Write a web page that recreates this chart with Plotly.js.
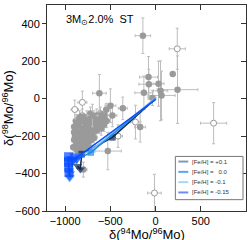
<!DOCTYPE html>
<html><head><meta charset="utf-8">
<script src="https://cdn.plot.ly/plotly-3.0.1.min.js"></script>
<style>html,body{margin:0;padding:0;background:#fff}</style>
</head><body><div id="plot" style="width:249px;height:240px"></div>
<script>
// Grain measurements: dense cluster (filled)
const clusterX = [-900,-880,-870,-860,-880,-850,-830,-820,-840,-810,-790,-780,-800,-760,-750,-770,-730,-720,-700,-690,-710,-680,-660,-650,-640,-620,-600,-610,-580,-560,-545,-570,-600,-650,-700,-740,-820,-860,-790,-760,-720,-850,-880,-830,-740,-690,-620,-540,-900,-910,-870,-840,-810,-780,-750,-720,-690,-660,-890,-860,-830,-800,-770,-740,-710,-680,-900,-870,-840,-810];
const clusterY = [-150,-170,-200,-230,-250,-260,-240,-210,-180,-160,-190,-230,-250,-210,-170,-140,-150,-190,-160,-130,-110,-100,-140,-90,-120,-100,-130,-80,-110,-90,-60,-140,-160,-170,-200,-230,-270,-280,-120,-100,-80,-140,-120,-120,-120,-180,-150,-120,-220,-260,-270,-250,-230,-210,-190,-170,-150,-120,-200,-190,-270,-280,-250,-260,-220,-210,-180,-140,-100,-90];
// Grain measurements with visible errors (filled)
const grainX  = [-140,190,-78,-74,33,-129,55,66,243,-34,-362,-621,-499,-698,-528,-170,-798,-477];
const grainY  = [336,131,115,77,80,31,42,17,48,3,-52,29,-38,-90,-280,-152,-379,-90];
const grainEX = [85,10,100,110,60,100,80,150,225,40,50,75,60,60,150,60,40,50];
const grainEY = [95,10,110,80,120,90,160,130,180,40,60,100,90,60,100,80,40,60];
// Grain measurements (open)
const openX  = [240,-809,-893,-222,-415,642,-12];
const openY  = [266,-20,-58,-125,-200,-131,-504];
const openEX = [90,50,40,60,50,145,75];
const openEY = [110,60,50,90,60,110,100];
// Models
const modelNames = ['[Fe/H] = +0.1','[Fe/H] =\u00a0\u00a0 0.0','[Fe/H] = -0.1','[Fe/H] = -0.15'];
const modelX = [
  [-862,-832,-816,-477,0],
  [-968,-945,-900,-716,0],
  [-950,-962,-860,-700,0],
  [-950,-957,-960,-962,-962,-915,-870,-830,0]
];
const modelY = [
  [-360,-378,-296,-207,0],
  [-330,-400,-330,-288,0],
  [-425,-365,-310,-272,4],
  [-418,-395,-370,-340,-310,-325,-312,-300,-6]
];
const modelColors = ['#0b2a55','#1e88e5','#86c5f7','#0a4cff'];
const legendColors = ['#7f9bb8','#5aa7ec','#a9d6f8','#6f8cf5'];
// marker style per point: [symbol, size]
const markStyle = [
  [['triangle-down',8],['triangle-down',8],['square',6.5],['square',6.5]],
  [['square',8],['triangle-down',9],['square',6.5],['square',6.5]],
  [['triangle-down',9],['square',8],['square',6.5],['square',6.5]],
  [['triangle-down',9],['square',9],['square',9],['square',9],['square',9],['triangle-down',12],['triangle-down',14],['square',0]]
];

const traces = [];
const ebx = (a)=>({type:'data',array:a,visible:true,color:'#bdbdbd',thickness:1,width:1.5});
traces.push({x:clusterX,y:clusterY,mode:'markers',type:'scatter',showlegend:false,
  error_x:ebx(clusterX.map(()=>30)),error_y:ebx(clusterY.map(()=>35)),
  marker:{color:'#9a9a9a',size:6.5}});
traces.push({x:grainX,y:grainY,mode:'markers',type:'scatter',showlegend:false,
  error_x:ebx(grainEX),error_y:ebx(grainEY),marker:{color:'#9a9a9a',size:6.5}});
traces.push({x:openX,y:openY,mode:'markers',type:'scatter',showlegend:false,
  error_x:ebx(openEX),error_y:ebx(openEY),marker:{color:'#ffffff',size:6,line:{color:'#9a9a9a',width:1}}});
[0,2,1,3].forEach(i=>{
  const ms=markStyle[i];
  traces.push({x:modelX[i],y:modelY[i],mode:'lines+markers',type:'scatter',showlegend:false,
    line:{color:modelColors[i],width:1.5},
    marker:{color:modelColors[i],line:{width:0},
      symbol:modelX[i].map((_,k)=>ms[k]?ms[k][0]:'square'),
      size:modelX[i].map((_,k)=>ms[k]?ms[k][1]:0)}});
});
traces.push({x:[null],y:[null],yaxis:'y2',showlegend:false,hoverinfo:'skip'});

const shapes=[{type:'rect',xref:'paper',yref:'paper',x0:0.645,x1:0.985,y0:0.055,y1:0.265,line:{color:'#777',width:1},fillcolor:'#fff'}];
const annotations=[{xref:'paper',yref:'paper',x:0.085,y:0.925,xanchor:'left',yanchor:'middle',showarrow:false,
  text:'3M<sub>⊙</sub>2.0%\u00a0\u00a0ST',font:{family:'Liberation Sans, Arial, sans-serif',size:11,color:'#000'}},
  {xref:'paper',yref:'paper',x:0.5,y:-0.11,xanchor:'center',yanchor:'middle',showarrow:false,
  text:'δ(<sup>94</sup>Mo/<sup>96</sup>Mo)',font:{family:'Liberation Sans, Arial, sans-serif',size:13,color:'#000'}}];
for(let i=0;i<4;i++){
  const yy=0.24-i*0.05;
  shapes.push({type:'line',xref:'paper',yref:'paper',x0:0.66,x1:0.71,y0:yy,y1:yy,line:{color:legendColors[i],width:2}});
  annotations.push({xref:'paper',yref:'paper',x:0.72,y:yy,xanchor:'left',yanchor:'middle',showarrow:false,
    text:modelNames[i],font:{family:'Liberation Sans, Arial, sans-serif',size:6,color:'#333'}});
}

const font={family:'Liberation Sans, Arial, sans-serif',size:11,color:'#000'};
const layout={width:249,height:240,margin:{l:47,r:3,t:5,b:29},paper_bgcolor:'#fff',plot_bgcolor:'#fff',
  font:font,showlegend:false,
  xaxis:{range:[-1200,1000],tickvals:[-1000,-500,0,500],ticks:'inside',ticklen:5,tickcolor:'#333',
    showline:true,linecolor:'#333',linewidth:1,mirror:'ticks',zeroline:false,showgrid:false},
  yaxis:{range:[-600,500],tickvals:[-600,-400,-200,0,200,400],ticks:'outside',ticklen:4,tickcolor:'#333',
    showline:true,linecolor:'#333',linewidth:1,mirror:true,zeroline:false,showgrid:false,
    title:{text:'δ(<sup>98</sup>Mo/<sup>96</sup>Mo)',font:{size:13},standoff:2}},
  yaxis2:{range:[-600,500],overlaying:'y',side:'right',tickvals:[-600,-400,-200,0,200,400],ticks:'inside',ticklen:5,
    tickcolor:'#333',showticklabels:false,showline:false,showgrid:false,zeroline:false},
  shapes:shapes,annotations:annotations};
Plotly.newPlot('plot',traces,layout,{displayModeBar:false,staticPlot:true});
</script></body></html>
